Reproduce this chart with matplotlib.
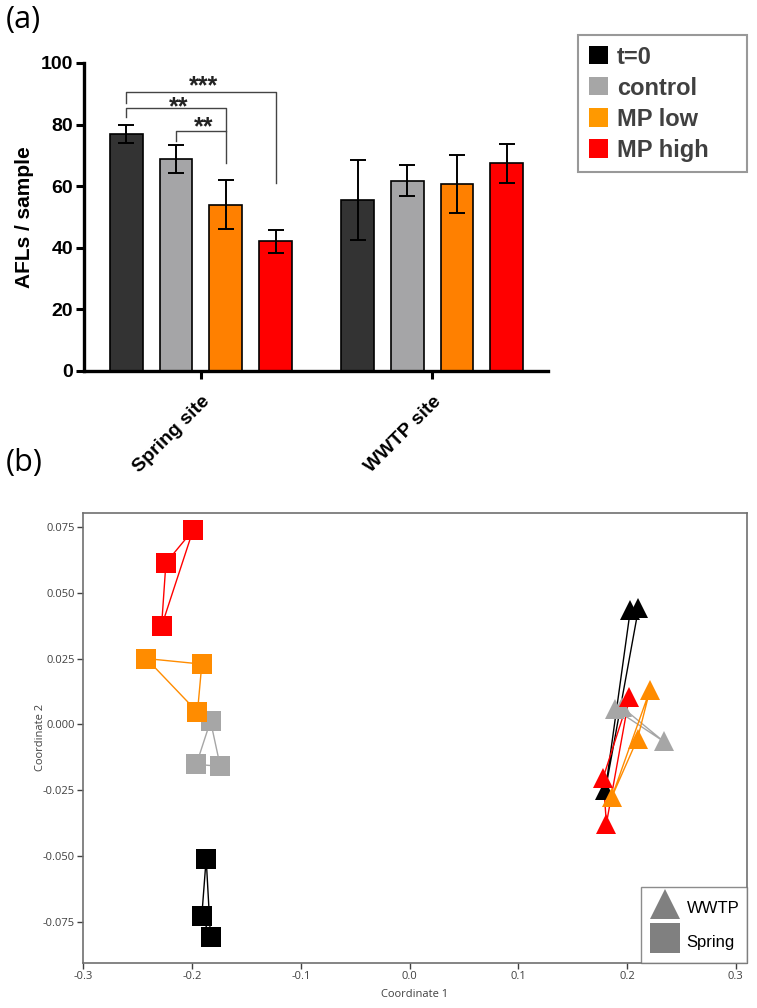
import numpy as np
import matplotlib
matplotlib.use("Agg")
import matplotlib.pyplot as plt
from matplotlib.lines import Line2D
from matplotlib.patches import Patch

# ---- panel (a) data ----
sites = ["Spring site", "WWTP site"]
treatments = ["t=0", "control", "MP low", "MP high"]
spring_mean = [77.0, 68.8, 54.0, 42.1]
spring_err = [2.9, 4.5, 8.0, 3.7]
wwtp_mean = [55.5, 61.8, 60.7, 67.4]
wwtp_err = [13.0, 4.9, 9.3, 6.3]

bar_colors = ["#333333", "#a5a5a7", "#ff8000", "#ff0000"]
legend_colors = ["#000000", "#a6a6a6", "#ff9900", "#ff0000"]

# significance brackets: (left bar, right bar, height, left leg end, right leg end, label, label baseline)
brackets = [
    (0, 3, 90.6, 87.1, 61.0, "***", 90.0),
    (0, 2, 85.3, 82.5, 78.0, "**", 83.4),
    (1, 2, 78.0, 74.5, 67.6, "**", 76.9),
]

# ---- panel (b) data (rows: t=0, control, MP low, MP high) ----
spring_x = [[-0.187, -0.191, -0.183],
            [-0.183, -0.196, -0.174],
            [-0.242, -0.191, -0.195],
            [-0.199, -0.224, -0.228]]
spring_y = [[-0.0509, -0.0725, -0.0807],
            [0.0013, -0.0151, -0.0159],
            [0.0250, 0.0229, 0.0047],
            [0.0738, 0.0613, 0.0373]]
wwtp_x = [[0.203, 0.2105, 0.180],
          [0.189, 0.2335, 0.1955],
          [0.221, 0.2096, 0.186],
          [0.202, 0.178, 0.181]]
wwtp_y = [[0.0434, 0.0440, -0.0250],
          [0.0058, -0.0064, 0.0065],
          [0.0130, -0.0054, -0.0275],
          [0.0104, -0.0202, -0.0376]]
pcoa_colors = ["#000000", "#a6a6a6", "#ff8c00", "#ff0000"]

plt.rcParams["font.family"] = ["Liberation Sans", "DejaVu Sans"]
seg = ["Open Sans", "DejaVu Sans"]

fig = plt.figure(figsize=(7.57, 10.08), dpi=100)

# ================= panel (a) =================
ax = fig.add_axes([0.111, 0.632, 0.613, 0.3056])
group_pos = [0.0, 4.65]
offsets = np.array([-1.5, -0.5, 0.5, 1.5])
for g, (means, errs) in enumerate([(spring_mean, spring_err), (wwtp_mean, wwtp_err)]):
    ax.bar(group_pos[g] + offsets, means, width=0.66, color=bar_colors,
           edgecolor="black", linewidth=1.2, zorder=2)
    ax.errorbar(group_pos[g] + offsets, means, yerr=errs, fmt="none",
                ecolor="black", elinewidth=1.4, capsize=5.5, capthick=1.4, zorder=3)

for i, j, h, l1, l2, lab, ty in brackets:
    x1 = group_pos[0] + offsets[i]
    x2 = group_pos[0] + offsets[j]
    ax.plot([x1, x1, x2, x2], [l1, h, h, l2], color="#444444", lw=1.0, zorder=4)
    ax.text((x1 + x2) / 2 + 0.06, ty, lab, ha="center", va="baseline",
            fontsize=18, fontweight="bold", color="#222222", zorder=5)

ax.set_xlim(-2.35, 6.98)
ax.set_ylim(0, 100)
ax.set_yticks([0, 20, 40, 60, 80, 100])
ax.set_xticks(group_pos)
ax.set_xticklabels(sites, rotation=45, ha="right", rotation_mode="anchor",
                   fontsize=14, fontweight="bold")
for t in ax.get_yticklabels():
    t.set_fontweight("bold")
    t.set_fontsize(14)
ax.tick_params(axis="both", width=2.2, length=6, direction="out")
ax.tick_params(axis="x", pad=10)
ax.tick_params(axis="y", pad=2)
ax.spines["top"].set_visible(False)
ax.spines["right"].set_visible(False)
ax.spines["left"].set_linewidth(2.4)
ax.spines["bottom"].set_linewidth(2.4)
ax.set_ylabel("AFLs / sample", fontsize=15, fontweight="bold", labelpad=5)

handles = [Patch(facecolor=c, edgecolor="none") for c in legend_colors]
leg = fig.legend(handles, treatments, loc="upper left", mode="expand",
                 bbox_to_anchor=(578 / 757, 1 - 175 / 1008, 169 / 757, 140 / 1008),
                 prop={"weight": "bold", "size": 17}, frameon=True,
                 fancybox=False, handlelength=0.8, handleheight=0.8,
                 handletextpad=0.4, labelspacing=0.34, borderpad=0.45,
                 borderaxespad=0)
leg.get_frame().set_edgecolor("#808080")
leg.get_frame().set_linewidth(1.5)
for t in leg.get_texts():
    t.set_color("#404040")
fig.text(6 / 757, 1 - 20 / 1008, "(a)", fontsize=22, va="center", family=seg)
fig.text(6 / 757, 1 - 463 / 1008, "(b)", fontsize=22, va="center", family=seg)

# ================= panel (b) =================
bx = fig.add_axes([0.110, 0.0451, 0.8764, 0.4462])
for k in range(4):
    for xs, ys, mk, ms in [(spring_x[k], spring_y[k], "s", 15),
                           (wwtp_x[k], wwtp_y[k], "^", 15)]:
        cx = list(xs) + [xs[0]]
        cy = list(ys) + [ys[0]]
        bx.plot(cx, cy, color=pcoa_colors[k], lw=1.0, zorder=2)
        bx.plot(xs, ys, linestyle="none", marker=mk, markersize=ms,
                color=pcoa_colors[k], markeredgewidth=0, zorder=3)

bx.set_xlim(-0.3, 0.31)
bx.set_ylim(-0.0903, 0.0803)
bx.set_xticks([-0.3, -0.2, -0.1, 0.0, 0.1, 0.2, 0.3])
bx.set_xticklabels(["-0.3", "-0.2", "-0.1", "0.0", "0.1", "0.2", "0.3"])
bx.set_yticks([-0.075, -0.05, -0.025, 0.0, 0.025, 0.05, 0.075])
bx.set_yticklabels(["-0.075", "-0.050", "-0.025", "0.000", "0.025", "0.050", "0.075"])
for s in bx.spines.values():
    s.set_color("#707070")
    s.set_linewidth(1.2)
bx.tick_params(axis="both", labelsize=8, colors="#404040", length=4,
               width=1, direction="out", pad=2)
for t in bx.get_xticklabels() + bx.get_yticklabels():
    t.set_family(seg)
bx.set_xlabel("Coordinate 1", fontsize=8, color="#404040", labelpad=5, family=seg)
bx.set_ylabel("Coordinate 2", fontsize=8, color="#404040", labelpad=-2, family=seg)

shape_handles = [Line2D([], [], linestyle="none", marker="^", markersize=22,
                        color="#808080", markeredgewidth=0),
                 Line2D([], [], linestyle="none", marker="s", markersize=21,
                        color="#808080", markeredgewidth=0)]
leg2 = bx.legend(shape_handles, ["WWTP", "Spring"], loc="lower right",
                 fontsize=12, frameon=True, fancybox=False, borderaxespad=0,
                 handletextpad=0.3, labelspacing=0.54, borderpad=0.45,
                 handlelength=2.0, handleheight=2.0)
leg2.get_frame().set_edgecolor("#707070")
leg2.get_frame().set_linewidth(1.0)

fig.savefig("out.png", dpi=100)
